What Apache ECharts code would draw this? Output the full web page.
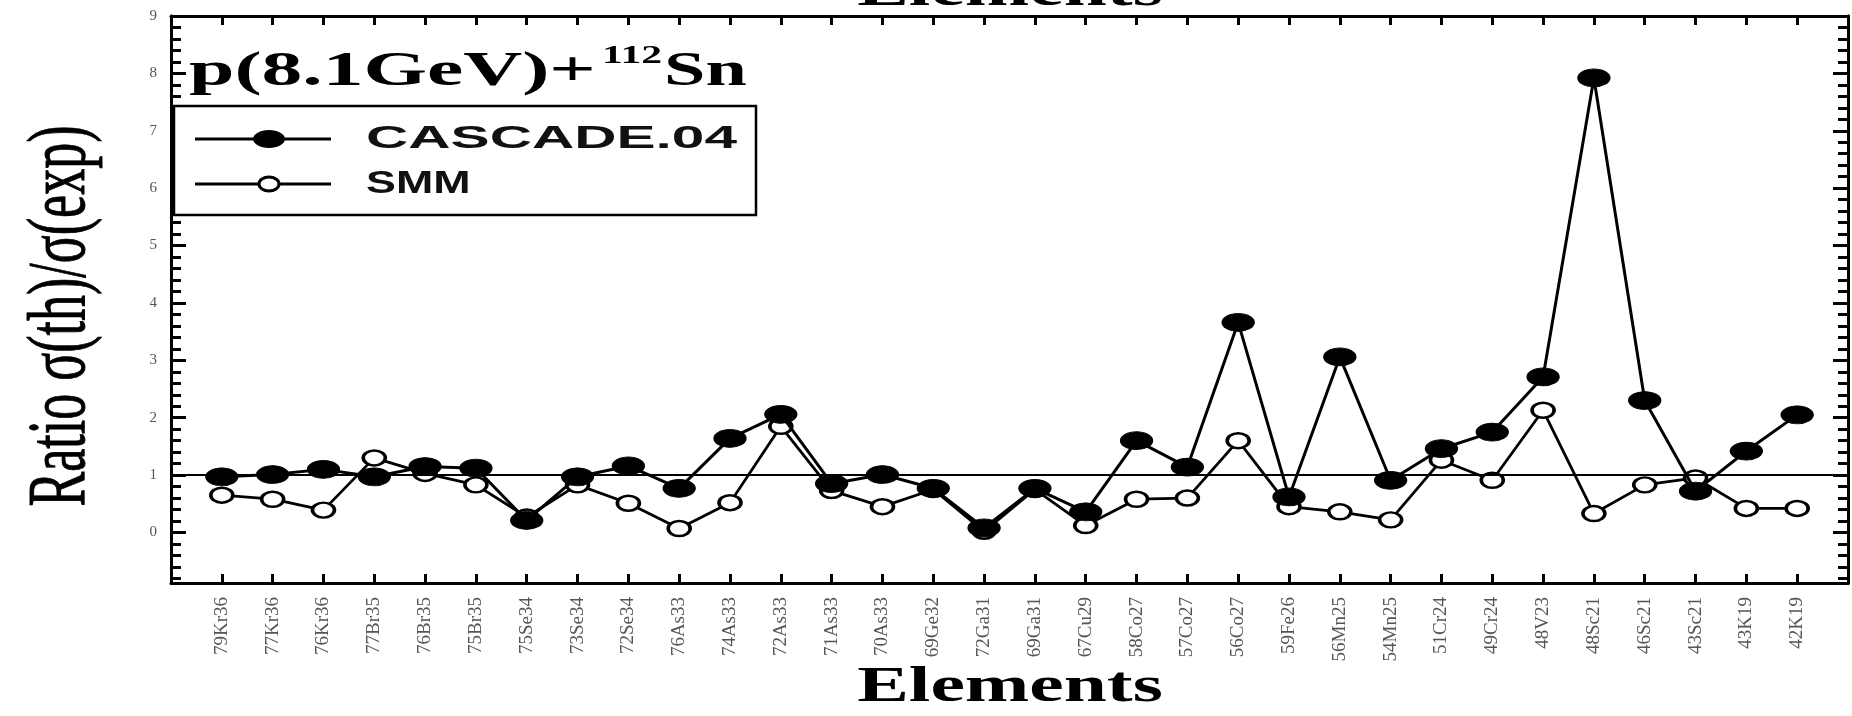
<!DOCTYPE html>
<html>
<head>
<meta charset="utf-8">
<script src="https://cdn.jsdelivr.net/npm/echarts@6/dist/echarts.min.js"></script>
<style>
  html, body { margin: 0; padding: 0; background: #fff; }
  #chart { width: 1852px; height: 716px; }
</style>
</head>
<body>
<div id="chart"></div>
<script>
// ---- data ----
const categories = ['79Kr36','77Kr36','76Kr36','77Br35','76Br35','75Br35','75Se34','73Se34','72Se34','76As33',
  '74As33','72As33','71As33','70As33','69Ge32','72Ga31','69Ga31','67Cu29','58Co27','57Co27',
  '56Co27','59Fe26','56Mn25','54Mn25','51Cr24','49Cr24','48V23','48Sc21','46Sc21','43Sc21','43K19','42K19'];
const cascade = [0.97, 1.01, 1.10, 0.97, 1.15, 1.12, 0.21, 0.97, 1.16, 0.77,
  1.64, 2.06, 0.85, 1.01, 0.77, 0.08, 0.77, 0.36, 1.60, 1.14,
  3.66, 0.62, 3.06, 0.91, 1.46, 1.75, 2.71, 7.92, 2.30, 0.72, 1.42, 2.05];
const smm = [0.65, 0.58, 0.39, 1.30, 1.03, 0.83, 0.27, 0.83, 0.51, 0.07,
  0.52, 1.85, 0.73, 0.45, 0.75, 0.02, 0.75, 0.12, 0.58, 0.60,
  1.60, 0.45, 0.36, 0.22, 1.26, 0.91, 2.13, 0.33, 0.83, 0.95, 0.42, 0.42];
const yTickLabels = [0, 1, 2, 3, 4, 5, 6, 7, 8, 9];
const referenceLevel = 1;
const seriesNames = ['CASCADE.04', 'SMM'];

// ---- helpers (layout only) ----
const xCats = [''].concat(categories, ['']);
const pad = arr => [null].concat(arr, [null]);
const minorTicks = [];
for (let i = -4; i <= 45; i++) { if (i % 5 !== 0) minorTicks.push(+(i * 0.2).toFixed(1)); }

const Y_MIN = -0.88, Y_MAX = 9;
const serif = '"Liberation Serif", "Times New Roman", serif';
const sans = '"Liberation Sans", Arial, sans-serif';

function yAxisDef(pos, ticks, len, showLabel) {
  return {
    type: 'value', position: pos, min: Y_MIN, max: Y_MAX,
    axisLine: { show: true, onZero: false, lineStyle: { color: '#000', width: 3 } },
    axisTick: { show: true, inside: true, length: len, customValues: ticks, lineStyle: { color: '#000', width: 3 } },
    axisLabel: showLabel ? { show: true, customValues: yTickLabels, color: '#555', fontSize: 15, fontFamily: serif, margin: 14 } : { show: false },
    splitLine: { show: false }
  };
}

function xAxisDef(pos, showLabel) {
  return {
    type: 'category', data: xCats, boundaryGap: false, position: pos,
    axisLine: { show: true, onZero: false, lineStyle: { color: '#000', width: 3 } },
    axisTick: { inside: true, length: 9, interval: 0, lineStyle: { color: '#000', width: 3 } },
    axisLabel: showLabel ? { interval: 0, rotate: 90, fontSize: 19, fontFamily: serif, color: '#555', margin: 14 } : { show: false },
    splitLine: { show: false }
  };
}

const chart = echarts.init(document.getElementById('chart'), null, { renderer: 'canvas' });
chart.setOption({
  animation: false,
  backgroundColor: '#fff',
  grid: { left: 171, right: 4, top: 16, bottom: 133, containLabel: false },
  xAxis: [ xAxisDef('bottom', true), xAxisDef('top', false) ],
  yAxis: [
    yAxisDef('left', yTickLabels, 15, true),
    yAxisDef('left', minorTicks, 10, false),
    yAxisDef('right', yTickLabels, 15, false),
    yAxisDef('right', minorTicks, 10, false)
  ],
  series: [
    {
      name: seriesNames[1], type: 'line', xAxisIndex: 0, yAxisIndex: 0,
      data: pad(smm), symbol: 'circle', symbolSize: [22, 15],
      itemStyle: { color: '#fff', borderColor: '#000', borderWidth: 3 },
      lineStyle: { color: '#000', width: 2.8 },
      z: 3,
      markLine: {
        silent: true, symbol: 'none', label: { show: false },
        lineStyle: { color: '#000', width: 2, type: 'solid' },
        data: [{ yAxis: referenceLevel }]
      }
    },
    {
      name: seriesNames[0], type: 'line', xAxisIndex: 0, yAxisIndex: 0,
      data: pad(cascade), symbol: 'circle', symbolSize: [32, 18],
      itemStyle: { color: '#000', borderColor: '#000', borderWidth: 1 },
      lineStyle: { color: '#000', width: 3 },
      z: 4
    }
  ],
  graphic: [
    // y axis name
    { type: 'text', x: 62, y: 316, rotation: Math.PI / 2, scaleY: 1.6, z: 10,
      style: { text: 'Ratio σ(th)/σ(exp)', font: 'normal 52px ' + serif, fill: '#000', stroke: '#000', lineWidth: 0.6, align: 'center', verticalAlign: 'middle' } },
    // x axis name bottom
    { type: 'text', x: 1010, y: 688, scaleX: 1.55, z: 10,
      style: { text: 'Elements', font: 'bold 50px ' + serif, fill: '#000', align: 'center', verticalAlign: 'middle' } },
    // x axis name top (clipped)
    { type: 'text', x: 1010, y: -8, scaleX: 1.55, z: 10,
      style: { text: 'Elements', font: 'bold 50px ' + serif, fill: '#000', align: 'center', verticalAlign: 'middle' } },
    // reaction title
    { type: 'text', x: 189, y: 73, scaleX: 1.7, z: 10,
      style: { text: 'p(8.1GeV)+', font: 'bold 48px ' + serif, fill: '#000', align: 'left', verticalAlign: 'middle' } },
    { type: 'text', x: 602, y: 56, scaleX: 1.6, z: 10,
      style: { text: '112', font: 'bold 26px ' + serif, fill: '#000', align: 'left', verticalAlign: 'middle' } },
    { type: 'text', x: 664, y: 73, scaleX: 1.55, z: 10,
      style: { text: 'Sn', font: 'bold 48px ' + serif, fill: '#000', align: 'left', verticalAlign: 'middle' } },
    // legend box
    { type: 'rect', z: 9, shape: { x: 174, y: 106, width: 582, height: 109 },
      style: { fill: '#fff', stroke: '#000', lineWidth: 2.5 } },
    { type: 'line', z: 10, shape: { x1: 195, y1: 139, x2: 331, y2: 139 }, style: { stroke: '#000', lineWidth: 3 } },
    { type: 'ellipse', z: 11, shape: { cx: 269, cy: 139, rx: 16, ry: 9 }, style: { fill: '#000' } },
    { type: 'text', x: 366, y: 139, scaleX: 1.83, z: 10,
      style: { text: seriesNames[0], font: 'bold 32px ' + sans, fill: '#111', align: 'left', verticalAlign: 'middle' } },
    { type: 'line', z: 10, shape: { x1: 195, y1: 184, x2: 331, y2: 184 }, style: { stroke: '#000', lineWidth: 2.8 } },
    { type: 'ellipse', z: 11, shape: { cx: 269, cy: 184, rx: 10, ry: 7 }, style: { fill: '#fff', stroke: '#000', lineWidth: 3 } },
    { type: 'text', x: 366, y: 184, scaleX: 1.4, z: 10,
      style: { text: seriesNames[1], font: 'bold 32px ' + sans, fill: '#111', align: 'left', verticalAlign: 'middle' } }
  ]
});
</script>
</body>
</html>
